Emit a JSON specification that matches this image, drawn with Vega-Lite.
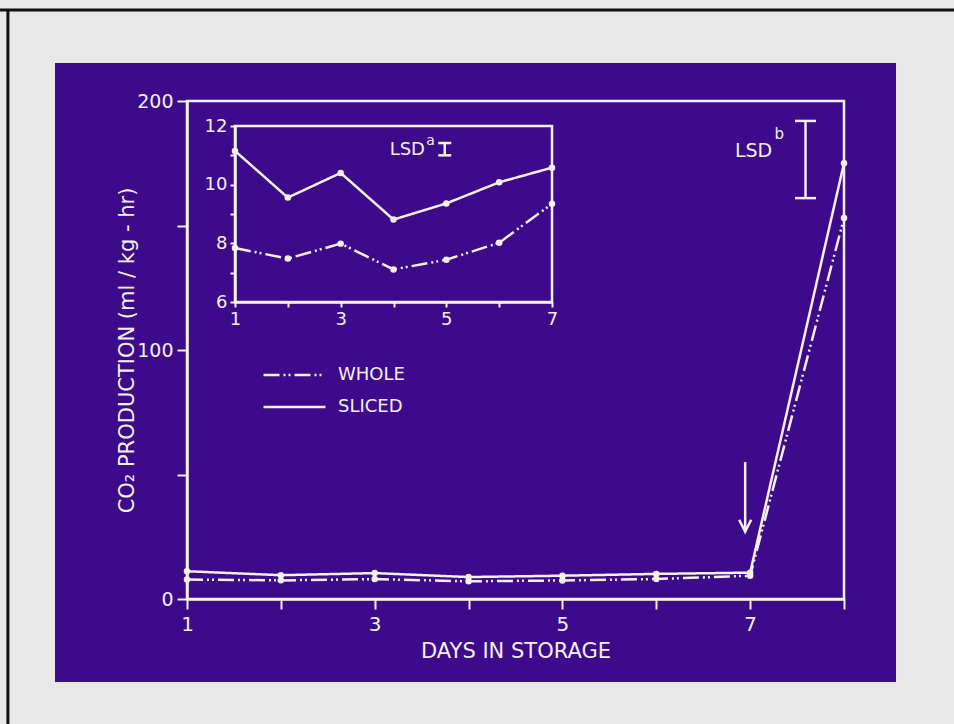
{
  "$schema": "https://vega.github.io/schema/vega-lite/v6.json",
  "width": 841,
  "height": 619,
  "autosize": {"type": "none"},
  "padding": {"left": 55, "top": 63, "right": 58, "bottom": 42},
  "background": "#e8e8e8",
  "view": {"fill": "#3d0a8c", "stroke": null},
  "config": {
    "font": "DejaVu Sans",
    "axis": {
      "domainColor": "#f4f1ea",
      "tickColor": "#f4f1ea",
      "labelColor": "#f4f1ea",
      "titleColor": "#f4f1ea",
      "grid": false,
      "labelFont": "DejaVu Sans",
      "titleFont": "DejaVu Sans",
      "titleFontWeight": "normal",
      "domainWidth": 2.5,
      "tickWidth": 2,
      "labelFlush": false,
      "labelOverlap": false
    }
  },
  "data": {
    "values": [
      {"day": 1, "type": "SLICED", "value": 11.15},
      {"day": 2, "type": "SLICED", "value": 9.56},
      {"day": 3, "type": "SLICED", "value": 10.4},
      {"day": 4, "type": "SLICED", "value": 8.81},
      {"day": 5, "type": "SLICED", "value": 9.36},
      {"day": 6, "type": "SLICED", "value": 10.08},
      {"day": 7, "type": "SLICED", "value": 10.58},
      {"day": 8, "type": "SLICED", "value": 175},
      {"day": 1, "type": "WHOLE", "value": 7.84},
      {"day": 2, "type": "WHOLE", "value": 7.48},
      {"day": 3, "type": "WHOLE", "value": 7.99},
      {"day": 4, "type": "WHOLE", "value": 7.11},
      {"day": 5, "type": "WHOLE", "value": 7.44},
      {"day": 6, "type": "WHOLE", "value": 8.02},
      {"day": 7, "type": "WHOLE", "value": 9.35},
      {"day": 8, "type": "WHOLE", "value": 153}
    ]
  },
  "resolve": {
    "scale": {"x": "independent", "y": "independent"},
    "axis": {"x": "independent", "y": "independent"}
  },
  "layer": [
    {
      "layer": [
        {
          "mark": {"type": "line", "color": "#f4f1ea", "strokeWidth": 2.5},
          "encoding": {
            "x": {
              "field": "day", "type": "quantitative",
              "scale": {"domain": [1, 8], "range": [132, 789], "nice": false, "zero": false},
              "axis": {
                "orient": "bottom", "offset": -83, "format": "d",
                "values": [1, 2, 3, 4, 5, 6, 7, 8],
                "labelExpr": "datum.value % 2 == 1 && datum.value < 8 ? datum.label : ''",
                "tickSize": 10, "labelFontSize": 20, "labelPadding": 5,
                "title": "DAYS  IN  STORAGE", "titleFontSize": 21, "titlePadding": 6
              }
            },
            "y": {
              "field": "value", "type": "quantitative",
              "scale": {"domain": [0, 200], "range": [536, 38], "nice": false, "zero": false},
              "axis": {
                "orient": "left", "offset": -132, "format": "d",
                "values": [0, 50, 100, 150, 200],
                "labelExpr": "datum.value % 100 == 0 ? datum.label : ''",
                "tickSize": 10, "labelFontSize": 19, "labelPadding": 4,
                "title": "CO₂  PRODUCTION (ml / kg - hr)", "titleFontSize": 21, "titlePadding": -1
              }
            },
            "strokeDash": {
              "field": "type", "type": "nominal",
              "scale": {"domain": ["WHOLE", "SLICED"], "range": [[16, 4, 2, 3, 2, 4], [1, 0]]},
              "legend": {
                "orient": "none", "legendX": 207, "legendY": 302,
                "title": null, "symbolType": "stroke", "symbolSize": 3844,
                "symbolStrokeWidth": 2.5, "symbolStrokeColor": "#f4f1ea",
                "labelColor": "#f4f1ea", "labelFontSize": 18, "labelFont": "DejaVu Sans",
                "clipHeight": 20, "rowPadding": 12, "labelOffset": 11, "padding": 0, "symbolOffset": 0
              }
            }
          }
        },
        {
          "mark": {"type": "point", "filled": true, "color": "#f4f1ea", "size": 42, "opacity": 1},
          "encoding": {
            "x": {"field": "day", "type": "quantitative"},
            "y": {"field": "value", "type": "quantitative"}
          }
        },
        {
          "data": {"values": [{}]},
          "mark": {"type": "rect", "fillOpacity": 0, "stroke": "#f4f1ea", "strokeWidth": 2.5},
          "encoding": {
            "x": {"datum": 1, "type": "quantitative"},
            "x2": {"datum": 8},
            "y": {"datum": 0, "type": "quantitative"},
            "y2": {"datum": 200}
          }
        },
        {
          "data": {"values": [{}]},
          "mark": {"type": "rule", "color": "#f4f1ea", "strokeWidth": 2.5},
          "encoding": {
            "x": {"datum": 7.59, "type": "quantitative"},
            "y": {"datum": 161, "type": "quantitative"},
            "y2": {"datum": 192}
          }
        },
        {
          "data": {"values": [{}]},
          "mark": {"type": "rule", "color": "#f4f1ea", "strokeWidth": 2.5},
          "encoding": {
            "x": {"datum": 7.478, "type": "quantitative"},
            "x2": {"datum": 7.702},
            "y": {"datum": 161, "type": "quantitative"}
          }
        },
        {
          "data": {"values": [{}]},
          "mark": {"type": "rule", "color": "#f4f1ea", "strokeWidth": 2.5},
          "encoding": {
            "x": {"datum": 7.478, "type": "quantitative"},
            "x2": {"datum": 7.702},
            "y": {"datum": 192, "type": "quantitative"}
          }
        },
        {
          "data": {"values": [{}]},
          "mark": {"type": "text", "text": "LSD", "align": "right", "baseline": "alphabetic", "fontSize": 19, "color": "#f4f1ea", "font": "DejaVu Sans"},
          "encoding": {
            "x": {"datum": 7.235, "type": "quantitative"},
            "y": {"datum": 177.5, "type": "quantitative"}
          }
        },
        {
          "data": {"values": [{}]},
          "mark": {"type": "text", "text": "b", "align": "left", "baseline": "alphabetic", "fontSize": 15, "color": "#f4f1ea", "font": "DejaVu Sans"},
          "encoding": {
            "x": {"datum": 7.26, "type": "quantitative"},
            "y": {"datum": 184.7, "type": "quantitative"}
          }
        },
        {
          "data": {"values": [{}]},
          "mark": {"type": "rule", "color": "#f4f1ea", "strokeWidth": 2.5},
          "encoding": {
            "x": {"datum": 6.947, "type": "quantitative"},
            "y": {"datum": 55, "type": "quantitative"},
            "y2": {"datum": 27.5}
          }
        },
        {
          "data": {"values": [{}]},
          "mark": {"type": "point", "shape": "M-1,-2L0,0L1,-2", "filled": false, "stroke": "#f4f1ea", "strokeWidth": 2.5, "size": 144, "opacity": 1},
          "encoding": {
            "x": {"datum": 6.947, "type": "quantitative"},
            "y": {"datum": 27, "type": "quantitative"}
          }
        },
        {
          "data": {"values": [{}]},
          "mark": {"type": "rule", "color": "#111111", "strokeWidth": 3},
          "encoding": {
            "x": {"datum": -1.3, "type": "quantitative"},
            "x2": {"datum": 9.6},
            "y": {"datum": 236.5, "type": "quantitative"}
          }
        },
        {
          "data": {"values": [{}]},
          "mark": {"type": "rule", "color": "#111111", "strokeWidth": 3},
          "encoding": {
            "x": {"datum": -0.908, "type": "quantitative"},
            "y": {"datum": 236.5, "type": "quantitative"},
            "y2": {"datum": -60}
          }
        }
      ]
    },
    {
      "transform": [{"filter": "datum.day <= 7"}],
      "layer": [
        {
          "mark": {"type": "line", "color": "#f4f1ea", "strokeWidth": 2.5},
          "encoding": {
            "x": {
              "field": "day", "type": "quantitative",
              "scale": {"domain": [1, 7], "range": [180, 497], "nice": false, "zero": false},
              "axis": {
                "orient": "bottom", "offset": -380, "format": "d",
                "values": [1, 2, 3, 4, 5, 6, 7],
                "labelExpr": "datum.value % 2 == 1 ? datum.label : ''",
                "tickSize": 5, "labelFontSize": 18, "labelPadding": 3, "title": null
              }
            },
            "y": {
              "field": "value", "type": "quantitative",
              "scale": {"domain": [6, 12], "range": [239, 63], "nice": false, "zero": false},
              "axis": {
                "orient": "left", "offset": -180, "format": "d",
                "values": [6, 6.5, 7, 7.5, 8, 8.5, 9, 9.5, 10, 10.5, 11, 11.5, 12],
                "labelExpr": "datum.value % 2 == 0 ? datum.label : ''",
                "tickSize": 5, "labelFontSize": 18, "labelPadding": 3, "title": null
              }
            },
            "strokeDash": {"field": "type", "type": "nominal"}
          }
        },
        {
          "mark": {"type": "point", "filled": true, "color": "#f4f1ea", "size": 42, "opacity": 1},
          "encoding": {
            "x": {"field": "day", "type": "quantitative"},
            "y": {"field": "value", "type": "quantitative"}
          }
        },
        {
          "data": {"values": [{}]},
          "mark": {"type": "rect", "fillOpacity": 0, "stroke": "#f4f1ea", "strokeWidth": 2.5},
          "encoding": {
            "x": {"datum": 1, "type": "quantitative"},
            "x2": {"datum": 7},
            "y": {"datum": 6, "type": "quantitative"},
            "y2": {"datum": 12}
          }
        },
        {
          "data": {"values": [{}]},
          "mark": {"type": "rule", "color": "#f4f1ea", "strokeWidth": 2.5},
          "encoding": {
            "x": {"datum": 4.97, "type": "quantitative"},
            "y": {"datum": 11.0, "type": "quantitative"},
            "y2": {"datum": 11.42}
          }
        },
        {
          "data": {"values": [{}]},
          "mark": {"type": "rule", "color": "#f4f1ea", "strokeWidth": 2.5},
          "encoding": {
            "x": {"datum": 4.847, "type": "quantitative"},
            "x2": {"datum": 5.093},
            "y": {"datum": 11.0, "type": "quantitative"}
          }
        },
        {
          "data": {"values": [{}]},
          "mark": {"type": "rule", "color": "#f4f1ea", "strokeWidth": 2.5},
          "encoding": {
            "x": {"datum": 4.847, "type": "quantitative"},
            "x2": {"datum": 5.093},
            "y": {"datum": 11.42, "type": "quantitative"}
          }
        },
        {
          "data": {"values": [{}]},
          "mark": {"type": "text", "text": "LSD", "align": "right", "baseline": "alphabetic", "fontSize": 18, "color": "#f4f1ea", "font": "DejaVu Sans"},
          "encoding": {
            "x": {"datum": 4.596, "type": "quantitative"},
            "y": {"datum": 11.01, "type": "quantitative"}
          }
        },
        {
          "data": {"values": [{}]},
          "mark": {"type": "text", "text": "a", "align": "left", "baseline": "alphabetic", "fontSize": 14, "color": "#f4f1ea", "font": "DejaVu Sans"},
          "encoding": {
            "x": {"datum": 4.62, "type": "quantitative"},
            "y": {"datum": 11.35, "type": "quantitative"}
          }
        }
      ]
    }
  ]
}
